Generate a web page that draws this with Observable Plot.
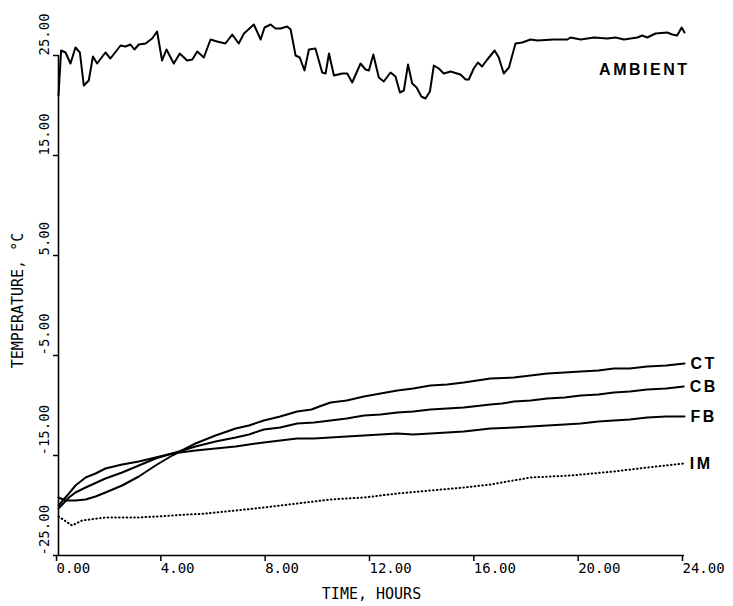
<!DOCTYPE html>
<html>
<head>
<meta charset="utf-8">
<script src="https://cdn.jsdelivr.net/npm/d3@7"></script>
<script src="https://cdn.jsdelivr.net/npm/@observablehq/plot@0.6"></script>
<style>
  html, body { margin: 0; padding: 0; background: white; }
</style>
</head>
<body>
<div id="chart"></div>
<script>
// ---- Data ----
const xTicks = [0, 4, 8, 12, 16, 20, 24];
const yTicks = [-25, -15, -5, 5, 15, 25];

const ambientHours = [0, 0.10, 0.27, 0.46, 0.65, 0.82, 0.97, 1.16, 1.32, 1.48, 1.80, 1.99, 2.38, 2.57, 2.76, 2.91, 3.08, 3.34, 3.59, 3.78, 3.97, 4.14, 4.42, 4.65, 4.93, 5.13, 5.32, 5.57, 5.83, 6.08, 6.40, 6.66, 6.91, 7.11, 7.49, 7.75, 7.90, 8.13, 8.32, 8.51, 8.77, 8.90, 9.09, 9.25, 9.43, 9.60, 9.85, 10.11, 10.24, 10.37, 10.56, 10.88, 11.07, 11.26, 11.58, 11.77, 11.90, 12.07, 12.28, 12.47, 12.73, 12.92, 13.09, 13.24, 13.40, 13.56, 13.73, 13.91, 14.07, 14.24, 14.39, 14.58, 14.77, 15.03, 15.41, 15.61, 15.73, 15.92, 16.08, 16.24, 16.44, 16.72, 16.88, 17.07, 17.27, 17.52, 17.78, 18.10, 18.36, 18.99, 19.51, 19.63, 20.02, 20.53, 21.04, 21.36, 21.68, 22.19, 22.38, 22.57, 22.89, 23.34, 23.53, 23.72, 23.89, 24.0];
const ambientTemp = [21.0, 25.5, 25.3, 24.2, 25.8, 25.3, 22.0, 22.5, 24.9, 24.2, 25.3, 24.7, 26.0, 25.9, 26.1, 25.6, 26.1, 26.2, 26.7, 27.4, 24.5, 25.6, 24.2, 25.2, 24.5, 24.6, 25.4, 24.8, 26.6, 26.4, 26.2, 27.1, 26.2, 27.2, 28.1, 26.6, 27.8, 28.1, 27.7, 27.7, 27.9, 27.6, 25.0, 24.8, 23.5, 25.6, 25.7, 23.3, 23.2, 25.2, 23.0, 23.2, 23.2, 22.3, 24.2, 23.6, 23.5, 25.1, 22.8, 22.4, 23.3, 22.9, 21.3, 21.5, 24.1, 22.2, 21.8, 20.9, 20.7, 21.4, 24.0, 23.7, 23.2, 23.4, 23.1, 22.6, 22.6, 23.7, 24.3, 23.9, 24.6, 25.5, 24.8, 23.2, 23.8, 26.2, 26.3, 26.6, 26.5, 26.6, 26.6, 26.8, 26.6, 26.8, 26.7, 26.8, 26.6, 26.8, 27.0, 26.8, 27.2, 27.3, 27.1, 27.0, 27.8, 27.3];

const ctHours = [0, 0.27, 0.65, 1.04, 1.42, 1.80, 2.44, 3.08, 3.72, 4.36, 5.25, 6.02, 6.79, 7.30, 7.87, 8.50, 9.15, 9.70, 10.00, 10.43, 11.05, 11.71, 12.35, 12.99, 13.60, 14.26, 14.90, 15.54, 16.56, 17.46, 18.10, 18.74, 19.40, 20.02, 20.70, 21.29, 21.90, 22.57, 23.30, 24.0];
const ctTemp  = [-19.2, -19.5, -19.5, -19.4, -19.1, -18.7, -18.0, -17.1, -16.0, -15.0, -13.8, -13.0, -12.3, -12.0, -11.5, -11.1, -10.6, -10.4, -10.1, -9.7, -9.5, -9.1, -8.8, -8.5, -8.3, -8.0, -7.9, -7.7, -7.3, -7.2, -7.0, -6.8, -6.7, -6.6, -6.5, -6.3, -6.3, -6.1, -6.0, -5.8];

const cbHours = [0, 0.40, 0.65, 1.04, 1.80, 2.44, 3.08, 3.72, 4.36, 5.25, 6.02, 6.79, 7.30, 7.87, 8.50, 9.15, 9.80, 10.43, 11.05, 11.71, 12.35, 12.99, 13.60, 14.26, 14.90, 15.54, 16.56, 17.00, 17.46, 18.10, 18.74, 19.40, 20.02, 20.70, 21.29, 21.90, 22.57, 23.30, 23.97];
const cbTemp  = [-20.3, -19.2, -18.7, -18.2, -17.3, -16.7, -16.0, -15.3, -14.8, -14.1, -13.6, -13.2, -12.9, -12.4, -12.2, -11.8, -11.7, -11.5, -11.3, -11.0, -10.9, -10.7, -10.6, -10.4, -10.3, -10.2, -9.9, -9.8, -9.6, -9.5, -9.3, -9.2, -9.0, -8.9, -8.7, -8.6, -8.4, -8.3, -8.1];

const fbHours = [0, 0.40, 0.65, 1.04, 1.42, 1.80, 2.44, 3.08, 3.72, 4.36, 5.25, 6.02, 6.79, 7.30, 7.87, 8.50, 9.15, 9.80, 10.43, 11.05, 11.71, 12.35, 12.99, 13.60, 14.26, 14.90, 15.54, 16.56, 17.46, 18.10, 18.74, 19.40, 20.02, 20.70, 21.29, 21.90, 22.57, 23.30, 24.0];
const fbTemp  = [-20.0, -18.8, -18.0, -17.2, -16.8, -16.3, -15.9, -15.6, -15.2, -14.8, -14.5, -14.3, -14.1, -13.9, -13.7, -13.5, -13.3, -13.3, -13.2, -13.1, -13.0, -12.9, -12.8, -12.9, -12.8, -12.7, -12.6, -12.3, -12.2, -12.1, -12.0, -11.9, -11.8, -11.6, -11.5, -11.4, -11.2, -11.1, -11.1];

const imHours = [0, 0.52, 0.90, 1.80, 3.08, 4.36, 5.64, 6.79, 7.87, 9.15, 10.43, 11.71, 12.99, 14.26, 15.54, 16.56, 18.10, 19.63, 21.29, 22.57, 23.97];
const imTemp  = [-21.1, -22.0, -21.5, -21.2, -21.2, -21.0, -20.8, -20.5, -20.2, -19.8, -19.4, -19.2, -18.8, -18.5, -18.2, -17.9, -17.2, -17.0, -16.6, -16.2, -15.8];

const seriesNames = ["CT", "CB", "FB", "IM"];
const ambientName = "AMBIENT";

// ---- Build tables ----
const rows = (hs, ts) => hs.map((h, i) => ({h, t: ts[i]}));
const ambient = rows(ambientHours, ambientTemp);
const ct = rows(ctHours, ctTemp);
const cb = rows(cbHours, cbTemp);
const fb = rows(fbHours, fbTemp);
const im = rows(imHours, imTemp);
const ends = [ct, cb, fb, im].map((s, i) => ({...s[s.length - 1], name: seriesNames[i]}));

const labelFont = "'Liberation Sans', Arial, sans-serif";

const chart = Plot.plot({
  width: 733,
  height: 606,
  marginLeft: 58,
  marginRight: 49,
  marginTop: 55,
  marginBottom: 51,
  style: {fontFamily: "'DejaVu Sans Mono', monospace", fontSize: "14px", background: "white", color: "black", overflow: "visible"},
  x: {domain: [0, 24]},
  y: {domain: [-25, 25]},
  marks: [
    Plot.axisX({ticks: xTicks, tickFormat: d => d.toFixed(2), tickSize: 6, tickPadding: 2, textAnchor: "start", dx: -2, label: null, strokeWidth: 1.5}),
    Plot.axisY({ticks: yTicks, tickFormat: d => d.toFixed(2), tickSize: 5, tickRotate: -90, tickPadding: 5, textAnchor: "start", label: null, strokeWidth: 1.5}),
    Plot.ruleX([0], {stroke: "black", strokeWidth: 1.6}),
    Plot.ruleY([-25], {stroke: "black", strokeWidth: 1.6}),
    Plot.line(ambient, {x: "h", y: "t", stroke: "black", strokeWidth: 2}),
    Plot.line(ct, {x: "h", y: "t", stroke: "black", strokeWidth: 2}),
    Plot.line(cb, {x: "h", y: "t", stroke: "black", strokeWidth: 2}),
    Plot.line(fb, {x: "h", y: "t", stroke: "black", strokeWidth: 2}),
    Plot.line(im, {x: "h", y: "t", stroke: "black", strokeWidth: 2, strokeDasharray: "0.6,3.2", strokeLinecap: "round"}),
    Plot.text(ends, {x: "h", y: "t", text: "name", textAnchor: "start", dx: 6, fontFamily: labelFont, fontWeight: "bold", fontSize: 16}),
    Plot.text([ambient[ambient.length - 1]], {x: "h", y: "t", text: () => ambientName, textAnchor: "end", dx: 5, dy: 37, fontFamily: labelFont, fontWeight: "bold", fontSize: 16}),
    Plot.text(["TIME, HOURS"], {frameAnchor: "bottom", dy: 43, fontSize: 15}),
    Plot.text(["TEMPERATURE, °C"], {frameAnchor: "left", textAnchor: "middle", dx: -40, dy: -5, rotate: -90, fontSize: 15})
  ]
});
document.getElementById("chart").appendChild(chart);

// letter-spacing for the series labels
const labelSet = new Set([...seriesNames, ambientName]);
d3.select(chart).selectAll("text")
  .filter(function() { return labelSet.has(this.textContent); })
  .style("letter-spacing", "2.5px");
</script>
</body>
</html>
